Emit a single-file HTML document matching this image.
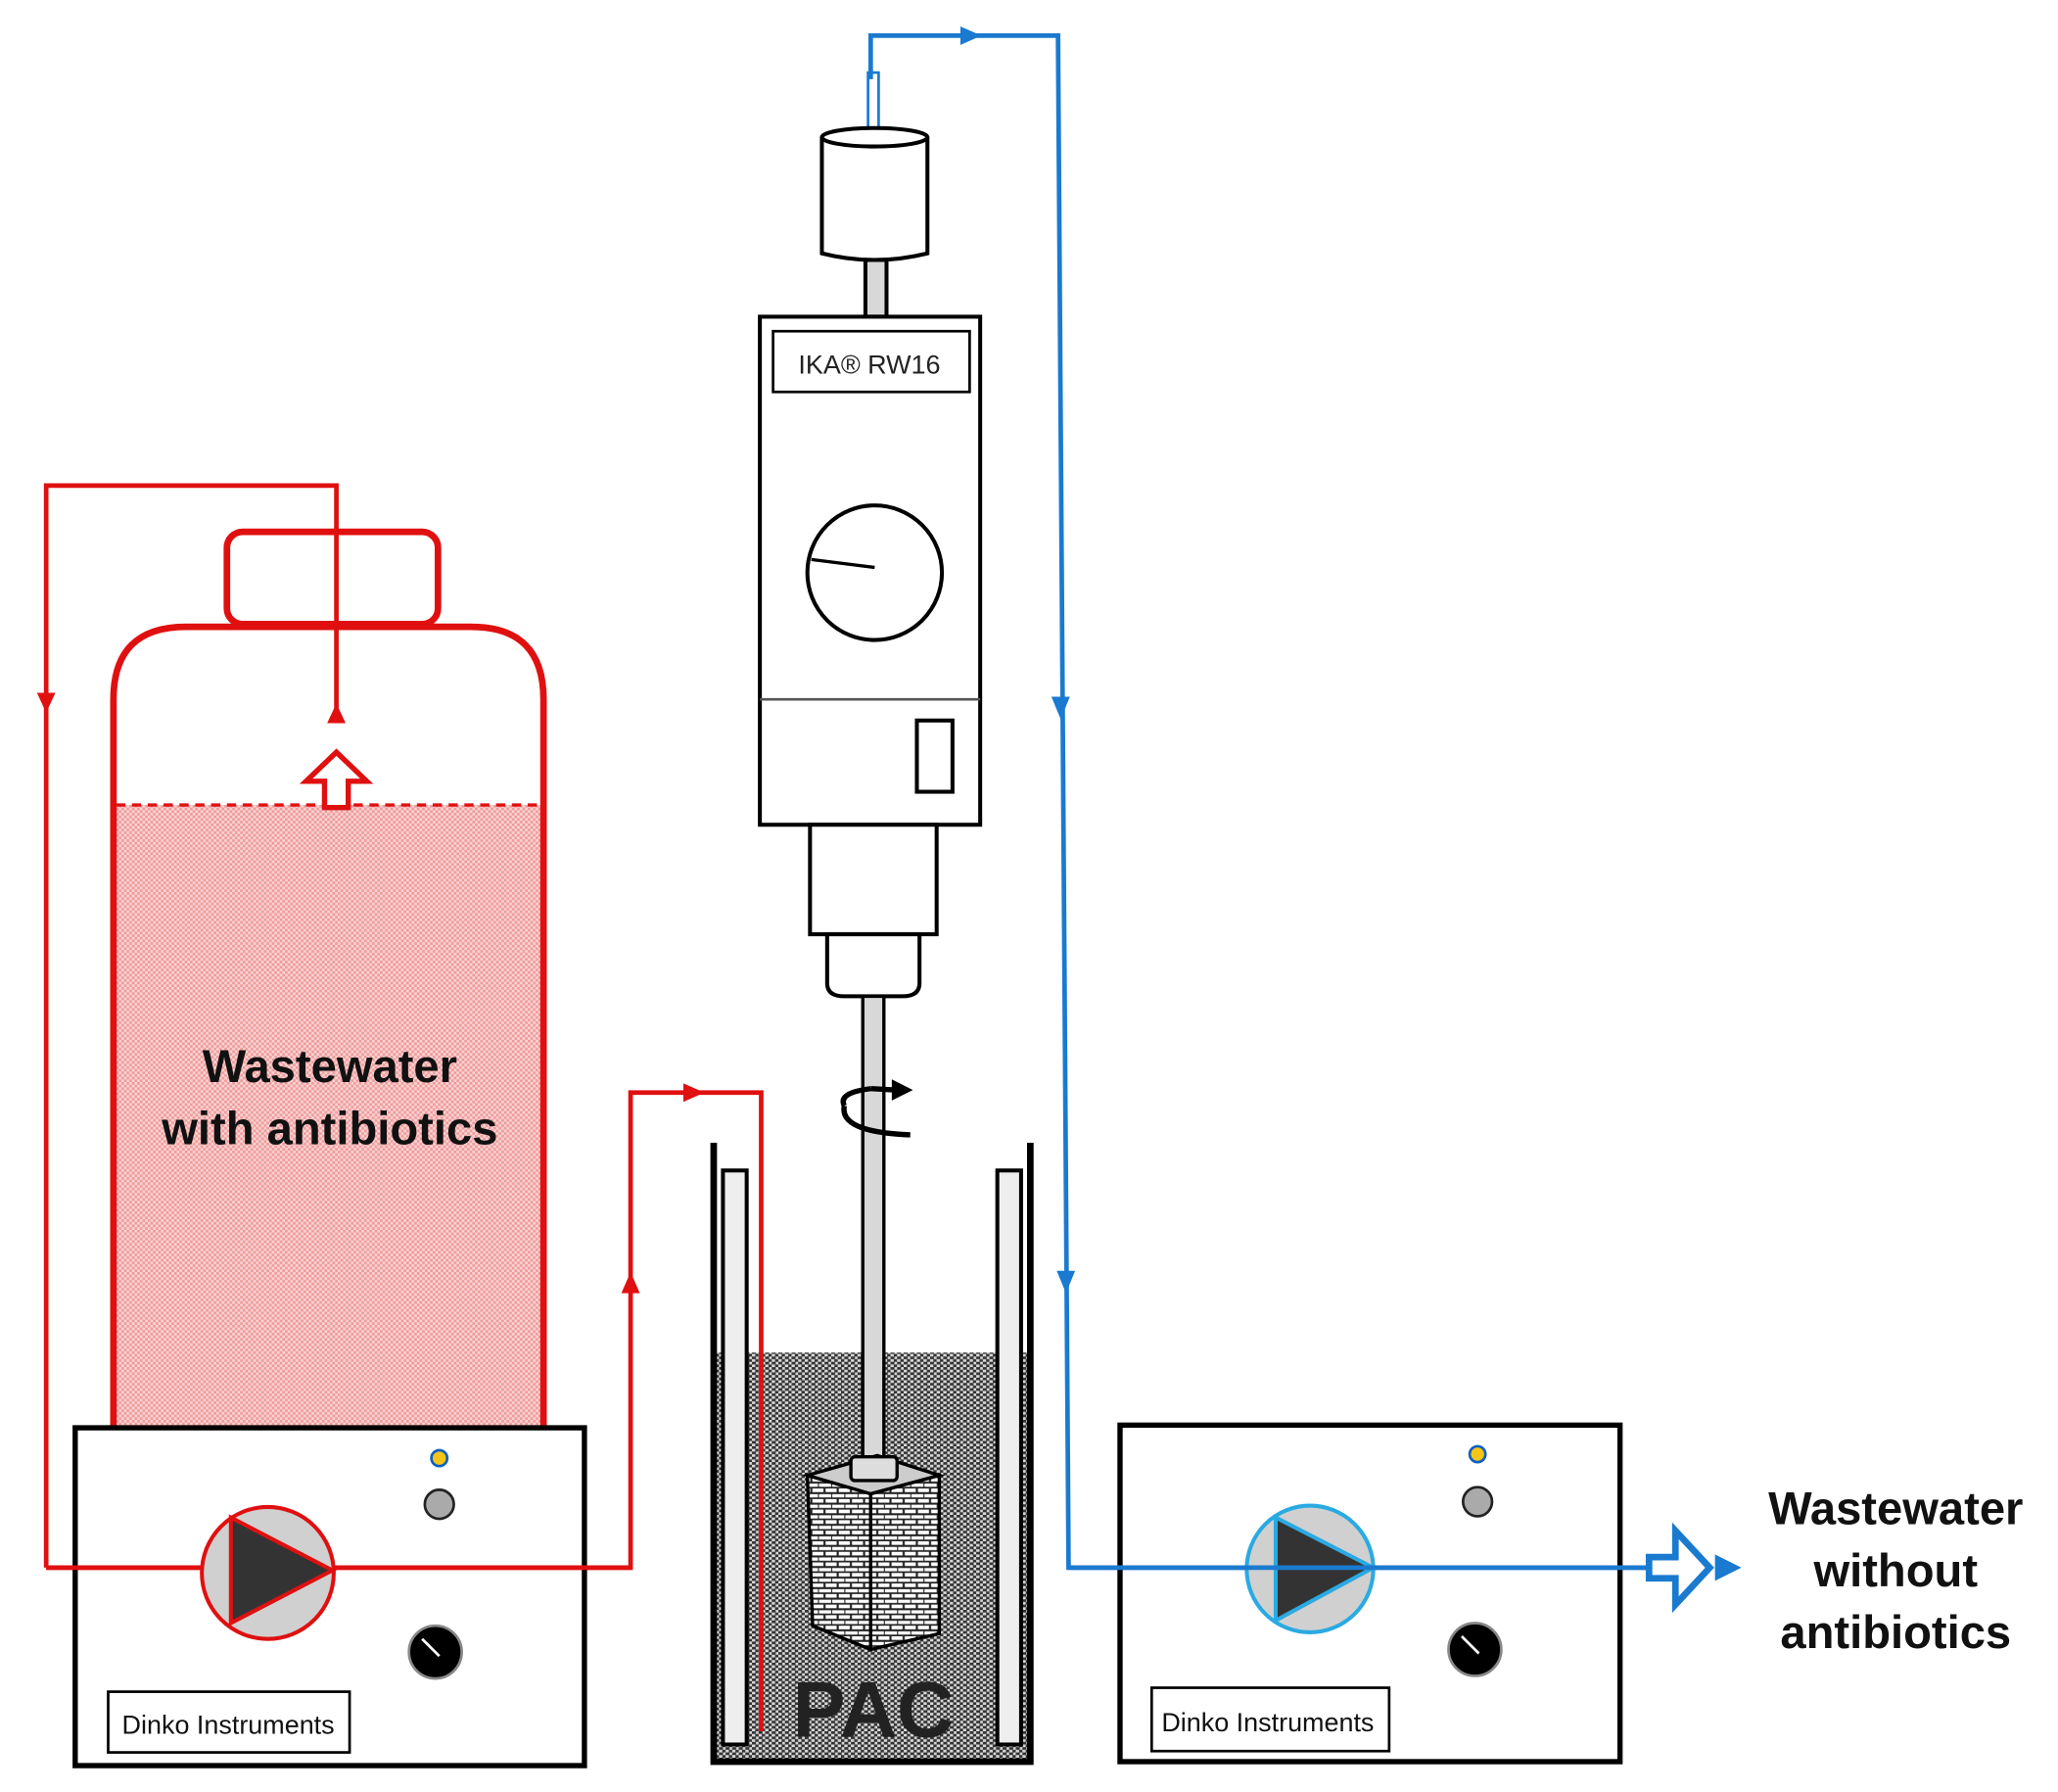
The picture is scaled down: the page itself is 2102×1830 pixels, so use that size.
<!DOCTYPE html>
<html><head><meta charset="utf-8"><style>html,body{margin:0;padding:0;background:#fff}svg{display:block}</style></head>
<body>
<svg width="2102" height="1830" viewBox="0 0 1560 1358" preserveAspectRatio="none" xmlns="http://www.w3.org/2000/svg" font-family="Liberation Sans, sans-serif">
<defs>
<pattern id="pk" width="4" height="4" patternUnits="userSpaceOnUse"><rect width="4" height="4" fill="#f9d4d4"/><rect width="2" height="2" fill="#ef9a9a"/><rect x="2" y="2" width="2" height="2" fill="#ef9a9a"/></pattern>
<pattern id="gr" width="5" height="4" patternUnits="userSpaceOnUse"><rect width="5" height="4" fill="#d8d8d8"/><rect width="3" height="2" fill="#333"/><rect x="2.5" y="2" width="3" height="2" fill="#333"/></pattern>
<pattern id="br" width="10" height="8" patternUnits="userSpaceOnUse"><rect width="10" height="8" fill="#fff"/><path d="M0 3.5H10M0 7.5H10M5 0V4M0 4V8" stroke="#222" stroke-width="1.6"/></pattern>
</defs>
<!-- tank -->
<rect x="88" y="610" width="322" height="472" fill="url(#pk)"/>
<line x1="88" y1="610" x2="410" y2="610" stroke="#e01010" stroke-width="2.5" stroke-dasharray="7,5"/>
<path d="M86 1082V530Q86 475 141 475H357Q412 475 412 530V1082" fill="none" stroke="#e01010" stroke-width="5"/>
<rect x="172" y="403" width="160" height="70" rx="12" fill="#fff" stroke="#e01010" stroke-width="5"/>
<!-- red lines -->
<path d="M35 1188V368H255V545" fill="none" stroke="#e01010" stroke-width="3.5"/>
<path d="M28 525L42 525L35 540Z" fill="#e01010"/>
<path d="M248 548L262 548L255 533Z" fill="#e01010"/>
<path d="M246 612V592H232L255 570L278 592H264V612Z" fill="#fff" stroke="#e01010" stroke-width="4"/>
<path d="M35 1188H478V828H577V1312" fill="none" stroke="#e01010" stroke-width="3.5"/>
<path d="M471 980L485 980L478 964Z" fill="#e01010"/>
<path d="M518 821L518 835L534 828Z" fill="#e01010"/>
<text x="250" y="820" font-size="35" font-weight="bold" text-anchor="middle" fill="#111">Wastewater</text>
<text x="250" y="867" font-size="35" font-weight="bold" text-anchor="middle" fill="#111">with antibiotics</text>
<!-- left pump -->
<rect x="57" y="1082" width="386" height="256" fill="none" stroke="#000" stroke-width="4"/>
<line x1="35" y1="1188" x2="478" y2="1188" stroke="#e01010" stroke-width="3.5"/>
<circle cx="203" cy="1192" r="50" fill="#d0d0d0" stroke="#e01010" stroke-width="3"/>
<path d="M175 1150L175 1230L252 1190Z" fill="#333" stroke="#e01010" stroke-width="3"/>
<circle cx="333" cy="1105" r="6" fill="#f5c518" stroke="#1060c0" stroke-width="2"/>
<circle cx="333" cy="1140" r="11" fill="#aaa" stroke="#222" stroke-width="2"/>
<circle cx="330" cy="1252" r="20" fill="#000" stroke="#888" stroke-width="2"/>
<line x1="320" y1="1242" x2="333" y2="1255" stroke="#fff" stroke-width="2"/>
<rect x="82" y="1282" width="183" height="46" fill="#fff" stroke="#000" stroke-width="2"/>
<text x="173" y="1314" font-size="20" text-anchor="middle" fill="#111">Dinko Instruments</text>
<!-- stirrer -->
<rect x="658" y="55" width="8" height="50" fill="#fff" stroke="#1a7ad0" stroke-width="2"/>
<path d="M623 104V192Q663 202 703 192V104" fill="#fff" stroke="#000" stroke-width="3"/>
<ellipse cx="663" cy="104" rx="40" ry="7" fill="#fff" stroke="#000" stroke-width="3"/>
<rect x="656" y="197" width="16" height="43" fill="#d8d8d8" stroke="#000" stroke-width="3"/>
<rect x="576" y="240" width="167" height="385" fill="#fff" stroke="#000" stroke-width="3"/>
<line x1="576" y1="530" x2="743" y2="530" stroke="#555" stroke-width="2"/>
<rect x="586" y="251" width="149" height="46" fill="#fff" stroke="#000" stroke-width="2"/>
<text x="659" y="283" font-size="20" text-anchor="middle" fill="#222">IKA® RW16</text>
<circle cx="663" cy="434" r="51" fill="#fff" stroke="#000" stroke-width="3"/>
<line x1="663" y1="430" x2="615" y2="424" stroke="#000" stroke-width="2.5"/>
<rect x="695" y="546" width="27" height="54" fill="#fff" stroke="#000" stroke-width="3"/>
<rect x="614" y="625" width="96" height="83" fill="#fff" stroke="#000" stroke-width="3"/>
<path d="M627 708V745Q627 755 640 755H684Q697 755 697 745V708Z" fill="#fff" stroke="#000" stroke-width="3"/>
<!-- beaker -->
<rect x="541" y="1025" width="240" height="310" fill="url(#gr)"/>
<rect x="654" y="755" width="16" height="360" fill="#d8d8d8" stroke="#000" stroke-width="2.5"/>
<path d="M541 866V1335H781V866" fill="none" stroke="#000" stroke-width="5"/>
<rect x="548" y="887" width="18" height="435" fill="#eee" stroke="#000" stroke-width="3"/>
<rect x="756" y="887" width="18" height="435" fill="#eee" stroke="#000" stroke-width="3"/>
<line x1="577" y1="1025" x2="577" y2="1312" stroke="#e01010" stroke-width="3.5"/>
<path d="M640 838Q635 828 660 825" fill="none" stroke="#000" stroke-width="4"/>
<path d="M660 825L678 826" stroke="#000" stroke-width="4"/>
<path d="M676 818L692 826L676 834Z" fill="#000"/>
<path d="M640 838Q636 858 690 860" fill="none" stroke="#000" stroke-width="4"/>
<path d="M612 1118L660 1132V1250L616 1232Z" fill="url(#br)" stroke="#000" stroke-width="2.5"/>
<path d="M660 1132L712 1118V1238L660 1250Z" fill="url(#br)" stroke="#000" stroke-width="2.5"/>
<path d="M612 1118L665 1103L712 1118L660 1132Z" fill="#ccc" stroke="#000" stroke-width="2.5"/>
<rect x="645" y="1104" width="35" height="18" rx="3" fill="#ddd" stroke="#000" stroke-width="2.5"/>
<text x="662" y="1316" font-size="60" font-weight="bold" text-anchor="middle" fill="#222">PAC</text>
<!-- blue -->
<path d="M660 60V27H802L810 1188H1250" fill="none" stroke="#1a7ad0" stroke-width="3.5"/>
<path d="M728 20L728 34L744 27Z" fill="#1a7ad0"/>
<path d="M797 528L811 528L804 545Z" fill="#1a7ad0"/>
<path d="M801 963L815 963L808 980Z" fill="#1a7ad0"/>
<!-- right pump -->
<rect x="849" y="1080" width="379" height="255" fill="none" stroke="#000" stroke-width="4"/>
<circle cx="993" cy="1189" r="48" fill="#d0d0d0" stroke="#29aae2" stroke-width="3"/>
<path d="M967 1150L967 1228L1041 1188Z" fill="#333" stroke="#29aae2" stroke-width="3"/>
<line x1="810" y1="1188" x2="1250" y2="1188" stroke="#1a7ad0" stroke-width="3.5"/>
<circle cx="1120" cy="1102" r="6" fill="#f5c518" stroke="#1060c0" stroke-width="2"/>
<circle cx="1120" cy="1138" r="11" fill="#aaa" stroke="#222" stroke-width="2"/>
<circle cx="1118" cy="1250" r="20" fill="#000" stroke="#888" stroke-width="2"/>
<line x1="1108" y1="1240" x2="1121" y2="1253" stroke="#fff" stroke-width="2"/>
<rect x="873" y="1279" width="180" height="48" fill="#fff" stroke="#000" stroke-width="2"/>
<text x="961" y="1312" font-size="20" text-anchor="middle" fill="#111">Dinko Instruments</text>
<path d="M1250 1180H1270V1160L1296 1188L1270 1216V1196H1250Z" fill="#fff" stroke="#1a7ad0" stroke-width="5"/>
<path d="M1300 1178L1320 1188L1300 1198Z" fill="#1a7ad0"/>
<text x="1437" y="1155" font-size="35" font-weight="bold" text-anchor="middle" fill="#111">Wastewater</text>
<text x="1437" y="1202" font-size="35" font-weight="bold" text-anchor="middle" fill="#111">without</text>
<text x="1437" y="1249" font-size="35" font-weight="bold" text-anchor="middle" fill="#111">antibiotics</text>
</svg>
</body></html>
